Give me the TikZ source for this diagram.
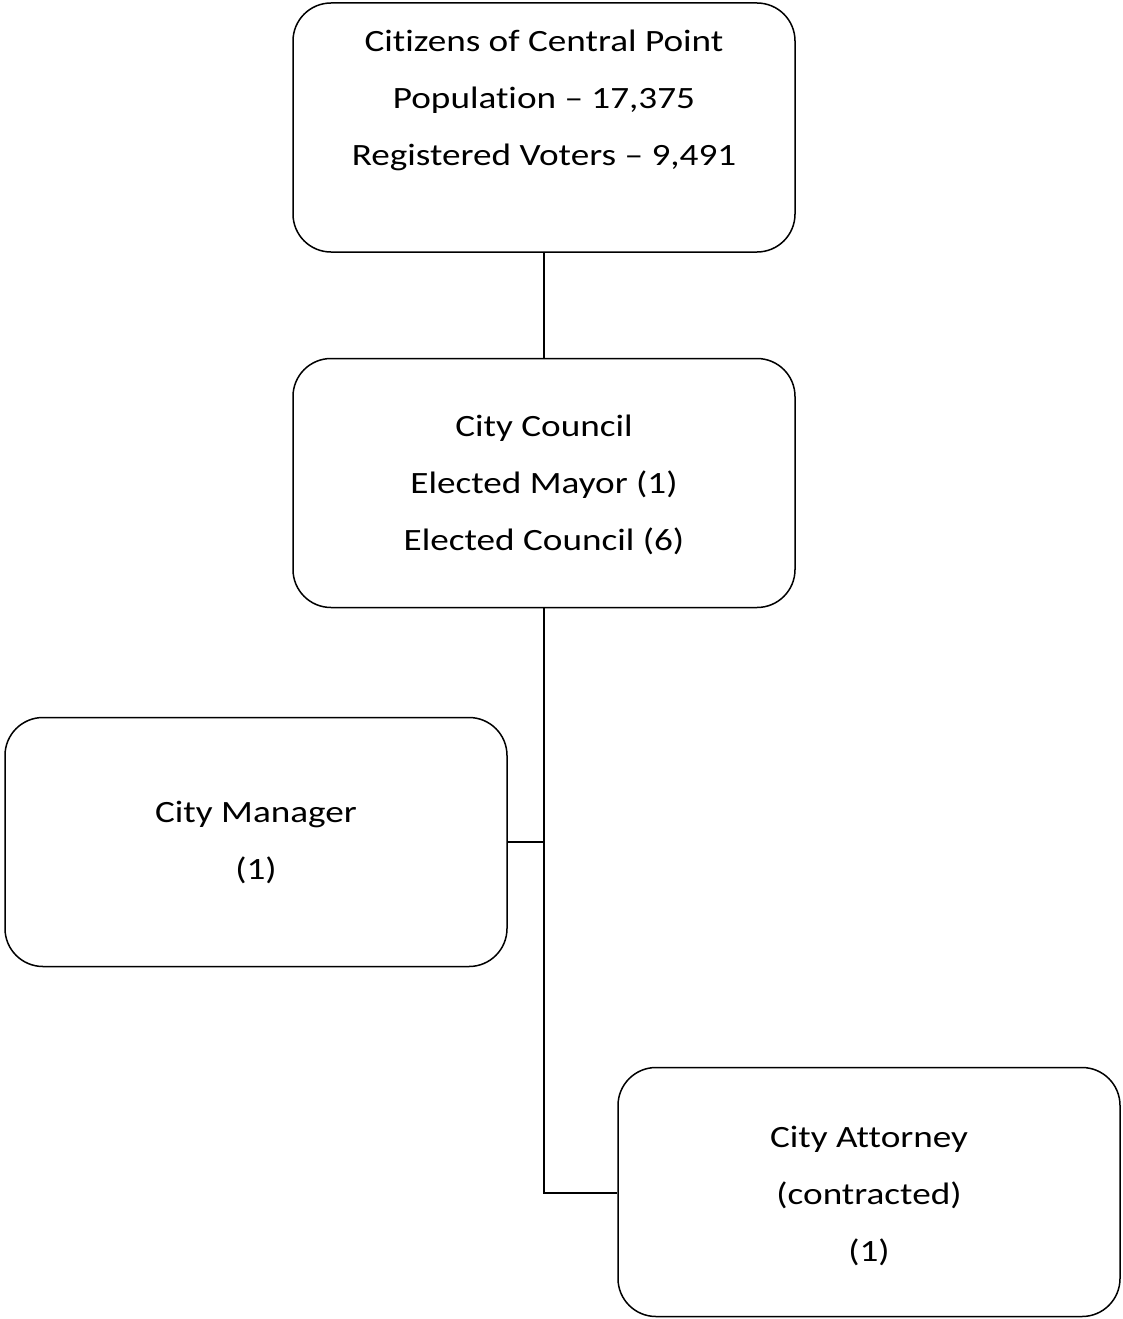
\documentclass[tikz,border=0pt]{standalone}
\usepackage{fontspec}
\setmainfont[FakeStretch=1.2,RawFeature=-liga]{Carlito}
\begin{document}
\begin{tikzpicture}[x=1pt,y=-1pt,
  box/.style={draw, line width=1.5pt, rounded corners=38pt, minimum width=502pt, minimum height=249pt, inner sep=0pt},
  label/.style={align=center, inner sep=0pt, anchor=north, font=\fontsize{31}{57}\selectfont},
  conn/.style={line width=1.5pt}]
\useasboundingbox (0,0) rectangle (1122,1319);
\node[box] (cit) at (544,127.5) {};
\node[box] (cc) at (544,483) {};
\node[box] (mgr) at (256,842) {};
\node[box] (att) at (869,1192) {};
\node[label] (tcit) at (544,30) {Citizens of Central Point\\Population -- 17,375\\Registered Voters -- 9,491};
\node[label] (tcc) at (544,415) {City Council\\Elected Mayor (1)\\Elected Council (6)};
\node[label] (tmgr) at (256,801) {City Manager\\(1)};
\node[label] (tatt) at (869,1126) {City Attorney\\(contracted)\\(1)};
\coordinate (j1) at (544,842);
\coordinate (j2) at (544,1193);
\draw[conn] (cit.south) -- (cc.north);
\draw[conn] (cc.south) -- (j2) -- (att.west |- j2);
\draw[conn] (mgr.east) -- (j1);
\end{tikzpicture}
\end{document}
